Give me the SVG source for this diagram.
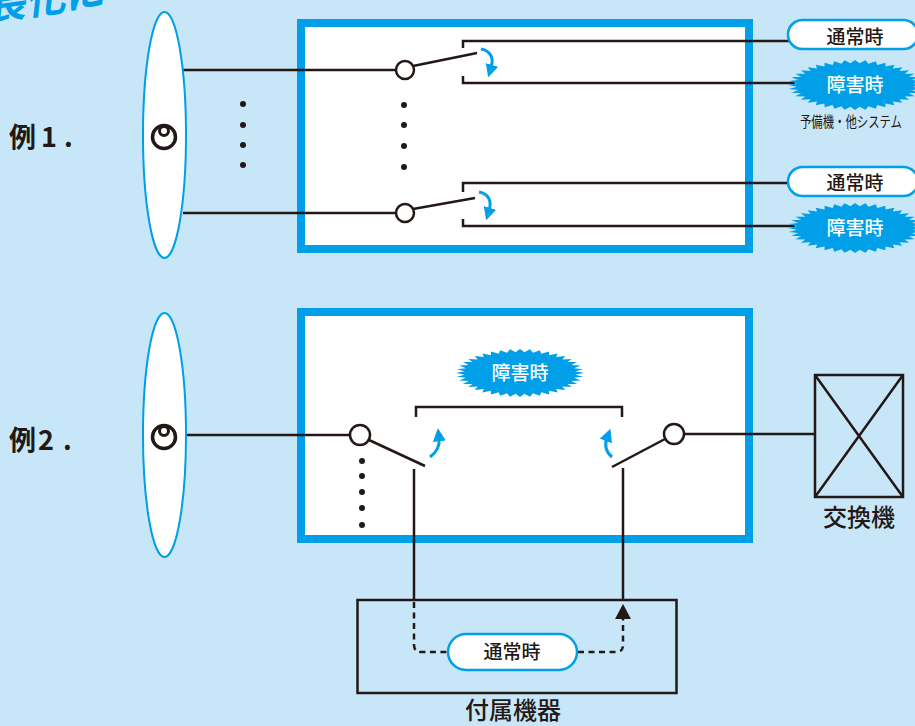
<svg xmlns="http://www.w3.org/2000/svg" xmlns:xlink="http://www.w3.org/1999/xlink" width="915" height="726" viewBox="0 0 915 726">
<style>
  text { font-family: "Noto Sans CJK JP", "Noto Sans", sans-serif; fill: #231815; }
  .box { fill: #ffffff; stroke: #009FE8; stroke-width: 8; }
  .wire { fill: none; stroke: #231815; stroke-width: 2.5; }
  .dash { fill: none; stroke: #231815; stroke-width: 2.5; stroke-dasharray: 6 4.5; }
  .node { fill: #ffffff; stroke: #231815; stroke-width: 2.5; }
  .ell { fill: #ffffff; stroke: #009FE8; stroke-width: 2; }
  .pill { fill: #ffffff; stroke: #009FE8; stroke-width: 2.5; }
  .burst { fill: #009FE8; }
  .blue-arrow { fill: none; stroke: #009FE8; stroke-width: 3; marker-end: url(#bluehead); }
  .dot { fill: #231815; }
  .logo { fill: none; stroke: #231815; stroke-width: 3.5; }
  .lbl { font-size: 19px; font-weight: 500; text-anchor: middle; }
  .ex { font-size: 27px; font-weight: bold; }
</style>
<defs>
  <marker id="bluehead" markerUnits="userSpaceOnUse" markerWidth="13" markerHeight="13" viewBox="0 0 12 12" refX="3" refY="6" orient="auto">
    <path d="M0,0 L12,6 L0,12 z" fill="#009FE8"/>
  </marker>
  <polygon id="burst" points="100,0 86.7,6.8 98.8,15.6 84.6,20.3 95.1,30.9 80.4,33.3 89.1,45.4 74.2,45.5 80.9,58.8 66.2,56.5 70.7,70.7 56.5,66.2 58.8,80.9 45.5,74.2 45.4,89.1 33.3,80.4 30.9,95.1 20.3,84.6 15.6,98.8 6.8,86.7 0,100 -6.8,86.7 -15.6,98.8 -20.3,84.6 -30.9,95.1 -33.3,80.4 -45.4,89.1 -45.5,74.2 -58.8,80.9 -56.5,66.2 -70.7,70.7 -66.2,56.5 -80.9,58.8 -74.2,45.5 -89.1,45.4 -80.4,33.3 -95.1,30.9 -84.6,20.3 -98.8,15.6 -86.7,6.8 -100,0 -86.7,-6.8 -98.8,-15.6 -84.6,-20.3 -95.1,-30.9 -80.4,-33.3 -89.1,-45.4 -74.2,-45.5 -80.9,-58.8 -66.2,-56.5 -70.7,-70.7 -56.5,-66.2 -58.8,-80.9 -45.5,-74.2 -45.4,-89.1 -33.3,-80.4 -30.9,-95.1 -20.3,-84.6 -15.6,-98.8 -6.8,-86.7 0,-100 6.8,-86.7 15.6,-98.8 20.3,-84.6 30.9,-95.1 33.3,-80.4 45.4,-89.1 45.5,-74.2 58.8,-80.9 56.5,-66.2 70.7,-70.7 66.2,-56.5 80.9,-58.8 74.2,-45.5 89.1,-45.4 80.4,-33.3 95.1,-30.9 84.6,-20.3 98.8,-15.6 86.7,-6.8"/>
</defs>

<rect x="0" y="0" width="915" height="726" fill="#C7E7F9"/>

<!-- cut-off heading fragment (only its lower part lies inside the picture) -->
<text x="-16" y="19" transform="rotate(-8)" font-size="40" font-weight="bold" font-style="italic" style="fill:#009FE8">長化に</text>

<g id="label-ex1"><text class="ex" y="147"><tspan x="9">例</tspan><tspan x="41">1</tspan><tspan x="64">.</tspan></text></g>
<g id="label-ex2"><text class="ex" y="450"><tspan x="9">例</tspan><tspan x="38">2</tspan><tspan x="63">.</tspan></text></g>

<g id="box-ex1"><rect class="box" x="301" y="23" width="448" height="226"/></g>
<g id="box-ex2"><rect class="box" x="301" y="312" width="448" height="227"/></g>
<g id="accessory"><rect x="357.5" y="600" width="319" height="93" fill="none" stroke="#231815" stroke-width="2.5"/>
  <text x="513" y="719" font-size="24" font-weight="500" text-anchor="middle">付属機器</text></g>
<g id="exchange"><rect x="815" y="375" width="88" height="122" fill="none" stroke="#231815" stroke-width="2.5"/>
  <path d="M815,375 L903,497 M903,375 L815,497" stroke="#231815" stroke-width="2.5"/>
  <text x="859" y="526" font-size="24" font-weight="500" text-anchor="middle">交換機</text></g>

<g id="connectors">
  <path class="wire" d="M183,70 L396,70"/>
  <path class="wire" d="M183,213 L396,213"/>
  <path class="wire" d="M413,66 L477,53"/>
  <path class="wire" d="M413,209 L475,198"/>
  <path class="wire" d="M463,48 L463,41 L792,41"/>
  <path class="wire" d="M463,76 L463,83 L795,83"/>
  <path class="wire" d="M463,192 L463,183 L792,183"/>
  <path class="wire" d="M463,219 L463,226 L795,226"/>
  <path class="blue-arrow" d="M481,49 C491,51 494,58 491,68"/>
  <path class="blue-arrow" d="M479,192 C489,194 492,201 489,211"/>
  <path class="wire" d="M186,435 L350,435"/>
  <path class="wire" d="M369,440 L425,466"/>
  <path class="wire" d="M665,439 L612,467"/>
  <path class="wire" d="M684,434 L815,434"/>
  <path class="wire" d="M416,417 L416,407 L622,407 L622,417"/>
  <path class="wire" d="M414,469 L414,600"/>
  <path class="wire" d="M623,468 L623,600"/>
  <path class="blue-arrow" d="M430,457 C437,452 440,446 439,438"/>
  <path class="blue-arrow" d="M612,457 C606,452 604,446 607,438"/>
  <path class="dash" d="M414,602 L414,645 Q414,652 421,652 L448,652"/>
  <path class="dash" d="M578,652 L616,652 Q623,652 623,645 L623,618"/>
  <polygon points="623,604 615,619 631,619" fill="#231815"/>
</g>

<g id="terminal-ex1">
  <ellipse class="ell" cx="164.5" cy="135" rx="21.5" ry="123"/>
  <circle class="logo" cx="164" cy="137" r="11.5"/>
  <circle class="logo" cx="164" cy="131" r="4.5" style="stroke-width:3"/>
</g>
<g id="terminal-ex2">
  <ellipse class="ell" cx="164.5" cy="435" rx="21.5" ry="122"/>
  <circle class="logo" cx="164" cy="437" r="11.5"/>
  <circle class="logo" cx="164" cy="431" r="4.5" style="stroke-width:3"/>
</g>

<g id="dots">
  <circle class="dot" cx="243" cy="104" r="3"/><circle class="dot" cx="243" cy="125" r="3"/>
  <circle class="dot" cx="243" cy="145" r="3"/><circle class="dot" cx="243" cy="165" r="3"/>
  <circle class="dot" cx="404" cy="105" r="3"/><circle class="dot" cx="404" cy="125" r="3"/>
  <circle class="dot" cx="404" cy="146" r="3"/><circle class="dot" cx="404" cy="167" r="3"/>
  <circle class="dot" cx="362" cy="461" r="3"/><circle class="dot" cx="362" cy="476" r="3"/>
  <circle class="dot" cx="362" cy="492" r="3"/><circle class="dot" cx="362" cy="508" r="3"/>
  <circle class="dot" cx="362" cy="525" r="3"/>
</g>

<g id="switch-ex1-a"><circle class="node" cx="405" cy="70" r="9"/></g>
<g id="switch-ex1-b"><circle class="node" cx="405" cy="213" r="9"/></g>
<g id="switch-ex2-left"><circle class="node" cx="360" cy="435" r="10"/></g>
<g id="switch-ex2-right"><circle class="node" cx="674" cy="434" r="10"/></g>

<g id="normal-1"><rect class="pill" x="788" y="20" width="130" height="29" rx="14.5"/>
  <text class="lbl" x="855" y="44">通常時</text></g>
<g id="fault-1"><use xlink:href="#burst" href="#burst" class="burst" transform="translate(855,85) scale(0.67,0.25)"/>
  <text class="lbl" x="855" y="92" style="fill:#ffffff">障害時</text>
  <text x="851" y="127" font-size="15" text-anchor="middle" textLength="102" lengthAdjust="spacingAndGlyphs">予備機・他システム</text></g>
<g id="normal-2"><rect class="pill" x="788" y="167" width="130" height="29" rx="14.5"/>
  <text class="lbl" x="855" y="190">通常時</text></g>
<g id="fault-2"><use xlink:href="#burst" href="#burst" class="burst" transform="translate(855,228) scale(0.67,0.25)"/>
  <text class="lbl" x="855" y="235" style="fill:#ffffff">障害時</text></g>

<g id="fault-ex2"><use xlink:href="#burst" href="#burst" class="burst" transform="translate(520,373) scale(0.64,0.24)"/>
  <text class="lbl" x="520" y="380" style="fill:#ffffff">障害時</text></g>
<g id="normal-ex2"><rect class="pill" x="448" y="634" width="129" height="36" rx="18"/>
  <text class="lbl" x="512" y="659">通常時</text></g>
</svg>
